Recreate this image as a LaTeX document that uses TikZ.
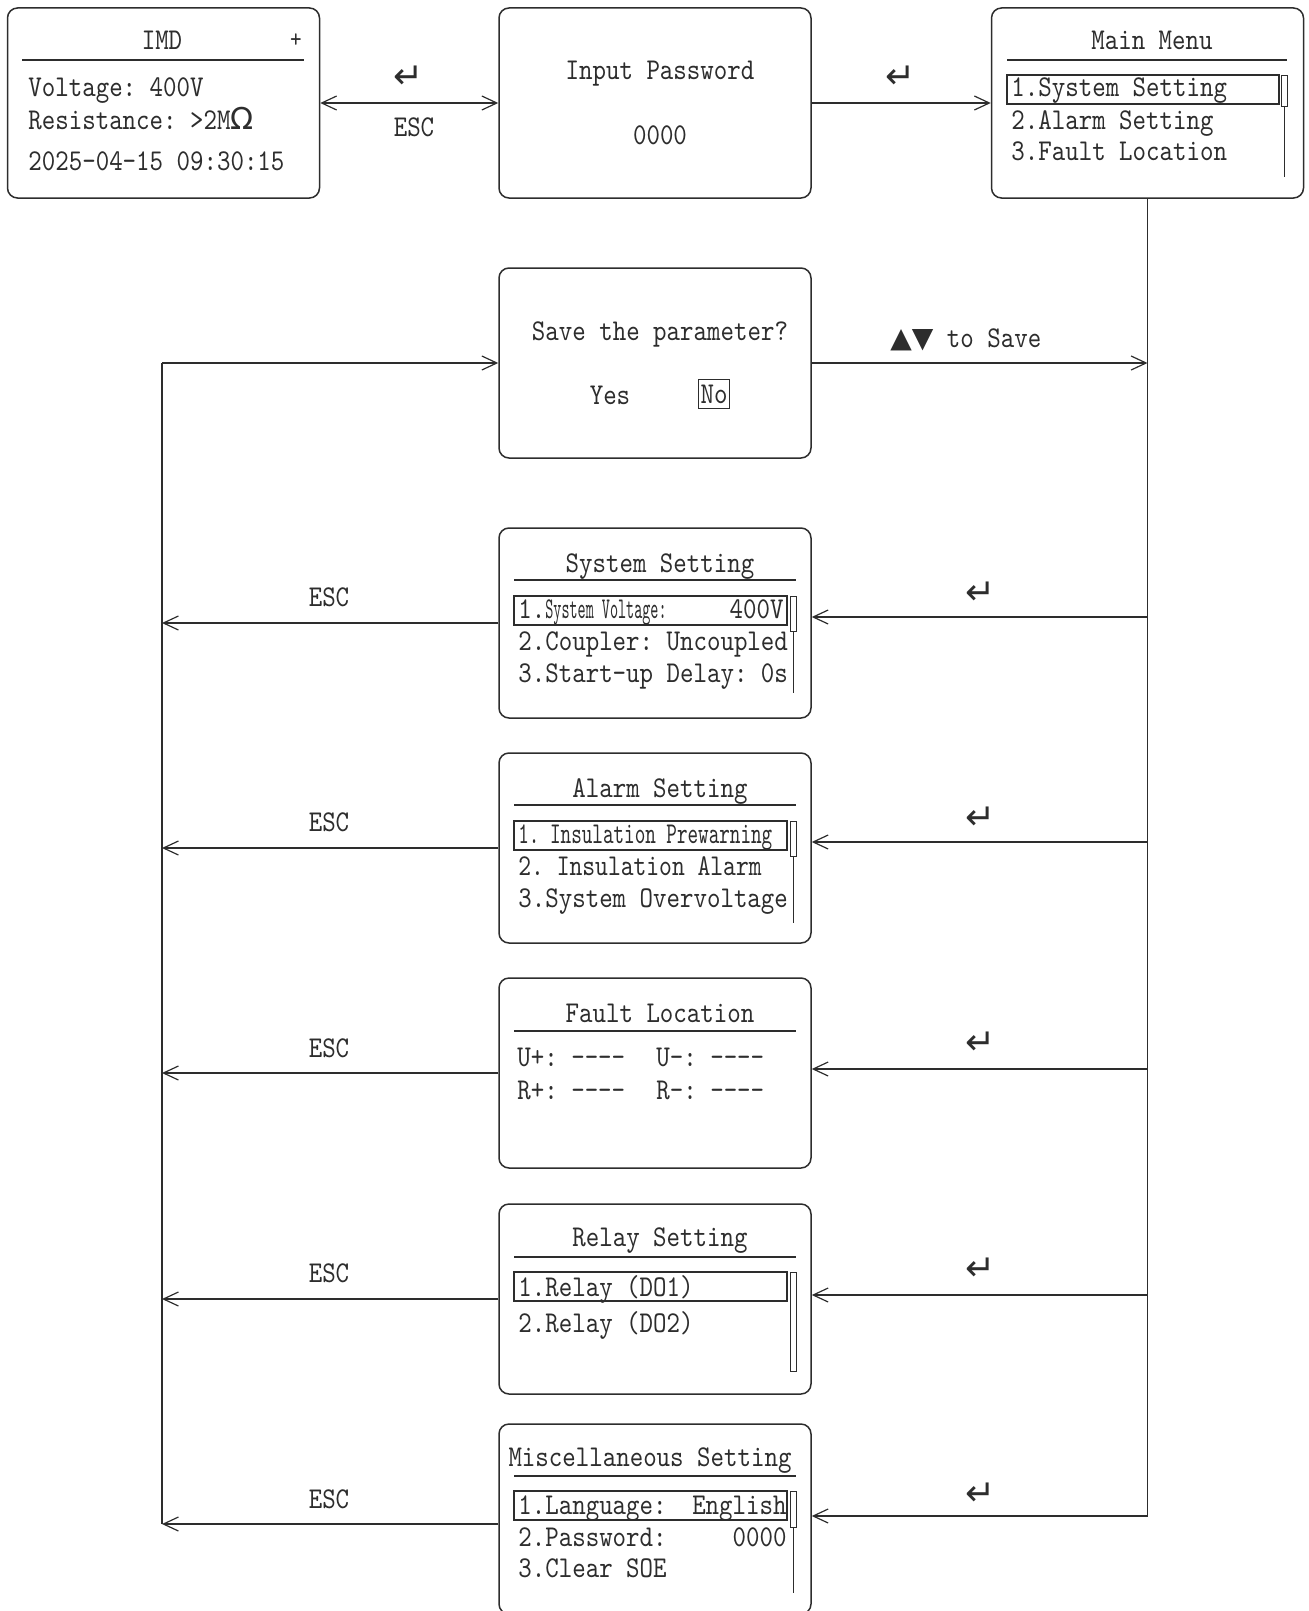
\documentclass[tikz,border=0pt]{standalone}
\usepackage{fontspec}
\usepackage{graphicx}
\setmonofont[FakeStretch=0.85]{lmmono10-regular.otf}
\newfontfamily\sym{DejaVu Sans}
\usetikzlibrary{arrows.meta}
\definecolor{ink}{RGB}{45,45,45}
\newcommand{\ent}{{\sym\fontsize{18pt}{18pt}\selectfont ↵}}
\newcommand{\tri}{{\sym\fontsize{14pt}{14pt}\selectfont ▲▼}}
\begin{document}
\begin{tikzpicture}[x=0.5pt,y=-0.5pt,
  scr/.style={draw=ink, line width=0.75pt, rounded corners=5pt, minimum width=156pt, minimum height=95pt, inner sep=0pt},
  txt/.style={inner sep=0pt, text=ink, font=\ttfamily\fontsize{15.1pt}{18pt}\selectfont},
  con/.style={draw=ink, line width=0.6pt},
  arr/.style={con, -{Straight Barb[length=7.5pt,width=7pt]}},
  dbl/.style={con, {Straight Barb[length=7.5pt,width=7pt]}-{Straight Barb[length=7.5pt,width=7pt]}},
  hl/.style={draw=ink, line width=0.6pt},
  thumb/.style={draw=ink, line width=0.4pt}
]
\useasboundingbox (0,0) rectangle (1308,1611);

% ---------- screens ----------
\node[scr] (imd)  at (163.5,103) {};
\node[scr] (pw)   at (655,103) {};
\node[scr] (mm)   at (1147.5,103) {};
\node[scr] (save) at (655,363) {};
\node[scr] (sys)  at (655,623) {};
\node[scr] (alm)  at (655,848) {};
\node[scr] (flt)  at (655,1073) {};
\node[scr] (rly)  at (655,1299) {};
\node[scr] (misc) at (655,1519) {};

% IMD
\node[txt, anchor=base] (imdT) at (162,50) {IMD};
\node[txt, font=\ttfamily\fontsize{13pt}{13pt}\selectfont] (imdP) at (296,41) {+};
\draw[hl] (22,60) -- (304,60);
\node[txt, anchor=base west] (imd1) at (28,97) {Voltage: 400V};
\node[txt, anchor=base west] (imd2) at (28,129) {Resistance: >2M{\sym Ω}};
\node[txt, anchor=base west] (imd3) at (28,170) {2025-04-15 09:30:15};

% Password
\node[txt, anchor=base] (pwT) at (660,80) {Input Password};
\node[txt, anchor=base] (pwV) at (660,144) {0000};

% Main menu
\node[txt, anchor=base] (mmT) at (1152,50) {Main Menu};
\draw[hl] (1007,60) -- (1287,60);
\draw[hl] (1007,75) rectangle (1279,104);
\draw[thumb] (1281,75) rectangle (1287,106);
\draw[thumb] (1284,106) -- (1284,177);
\node[txt, anchor=base west] (mm1) at (1011,97) {1.System Setting};
\node[txt, anchor=base west] (mm2) at (1011,129) {2.Alarm Setting};
\node[txt, anchor=base west] (mm3) at (1011,161) {3.Fault Location};

% Save
\node[txt, anchor=base] (svT) at (660,340) {Save the parameter?};
\node[txt, anchor=base] (svY) at (610,404) {Yes};
\node[txt, draw=ink, line width=0.6pt, inner xsep=1pt, inner ysep=2.5pt] (svN) at (714,394) {No};

% System Setting
\node[txt, anchor=base] (sysT) at (660,572) {System Setting};
\draw[hl] (514,580) -- (796,580);
\draw[hl] (514,596) rectangle (787,625);
\draw[thumb] (790,596) rectangle (796,631);
\draw[thumb] (793,631) -- (793,693);
\node[txt, anchor=base west] (sys1) at (518,618) {1.\scalebox{0.6}[1]{System Voltage:}};
\node[txt, anchor=base east] (sys1v) at (784,618) {400V};
\node[txt, anchor=base west] (sys2) at (518,650) {2.Coupler: Uncoupled};
\node[txt, anchor=base west] (sys3) at (518,682) {3.Start-up Delay: 0s};

% Alarm Setting
\node[txt, anchor=base] (almT) at (660,797) {Alarm Setting};
\draw[hl] (514,805) -- (796,805);
\draw[hl] (514,821) rectangle (787,850);
\draw[thumb] (790,821) rectangle (796,856);
\draw[thumb] (793,856) -- (793,923);
\node[txt, anchor=base west] (alm1) at (518,843) {\scalebox{0.785}[1]{1. Insulation Prewarning}};
\node[txt, anchor=base west] (alm2) at (518,875) {\scalebox{0.95}[1]{2. Insulation Alarm}};
\node[txt, anchor=base west] (alm3) at (518,907) {3.System Overvoltage};

% Fault Location
\node[txt, anchor=base] (fltT) at (660,1022) {Fault Location};
\draw[hl] (514,1031) -- (796,1031);
\node[txt, anchor=base west] (flt1) at (517,1066) {U+: ----};
\node[txt, anchor=base west] (flt2) at (656,1066) {U-: ----};
\node[txt, anchor=base west] (flt3) at (517,1099) {R+: ----};
\node[txt, anchor=base west] (flt4) at (656,1099) {R-: ----};

% Relay Setting
\node[txt, anchor=base] (rlyT) at (660,1246) {Relay Setting};
\draw[hl] (514,1257) -- (796,1257);
\draw[hl] (514,1272) rectangle (787,1301);
\draw[thumb] (790,1272) rectangle (796,1371);
\node[txt, anchor=base west] (rly1) at (518,1296) {1.Relay (DO1)};
\node[txt, anchor=base west] (rly2) at (518,1332) {2.Relay (DO2)};

% Miscellaneous Setting
\node[txt, anchor=base] (miscT) at (650,1466) {Miscellaneous Setting};
\draw[hl] (514,1476) -- (796,1476);
\draw[hl] (514,1491) rectangle (787,1520);
\draw[thumb] (790,1491) rectangle (796,1527);
\draw[thumb] (793,1527) -- (793,1593);
\node[txt, anchor=base west] (misc1) at (518,1514) {1.Language:};
\node[txt, anchor=base east] (misc1v) at (787,1514) {English};
\node[txt, anchor=base west] (misc2) at (518,1546) {2.Password:};
\node[txt, anchor=base east] (misc2v) at (787,1546) {0000};
\node[txt, anchor=base west] (misc3) at (518,1577) {3.Clear SOE};

% ---------- connectors ----------
\draw[dbl] (imd.east) -- (pw.west);
\node[txt] (e0) at (409,77) {\ent};
\node[txt] (esc0) at (414,127) {ESC};
\draw[arr] (pw.east) -- (mm.west);
\node[txt] (e1) at (901,77) {\ent};

% right bus
\coordinate (rb) at (1147.5,1516);
\draw[con] (mm.south) -- (rb);
\draw[arr] (save.east) -- (save.east -| mm.south);
\node[txt, anchor=base west] (tosave) at (890,347) {\tri\ to Save};

\coordinate (r1) at (1147.5,617);
\coordinate (r2) at (1147.5,842);
\coordinate (r3) at (1147.5,1069);
\coordinate (r4) at (1147.5,1295);
\draw[arr] (r1) -- (r1 -| sys.east);
\draw[arr] (r2) -- (r2 -| alm.east);
\draw[arr] (r3) -- (r3 -| flt.east);
\draw[arr] (r4) -- (r4 -| rly.east);
\draw[arr] (rb) -- (rb -| misc.east);
\node[txt] (e2) at (981,593) {\ent};
\node[txt] (e3) at (981,818) {\ent};
\node[txt] (e4) at (981,1043) {\ent};
\node[txt] (e5) at (981,1269) {\ent};
\node[txt] (e6) at (981,1494) {\ent};

% left bus
\coordinate (ltop) at (162,363);
\coordinate (lbot) at (162,1524);
\draw[con] (ltop) -- (lbot);
\draw[arr] (ltop) -- (save.west);
\draw[arr] (sys.west) -- (sys.west -| ltop);
\draw[arr] (alm.west) -- (alm.west -| ltop);
\draw[arr] (flt.west) -- (flt.west -| ltop);
\draw[arr] (rly.west) -- (rly.west -| ltop);
\draw[arr] ([yshift=-2.5pt]misc.west) -- (lbot);
\node[txt] (esc1) at (329,597) {ESC};
\node[txt] (esc2) at (329,822) {ESC};
\node[txt] (esc3) at (329,1048) {ESC};
\node[txt] (esc4) at (329,1273) {ESC};
\node[txt] (esc5) at (329,1499) {ESC};
\end{tikzpicture}
\end{document}
